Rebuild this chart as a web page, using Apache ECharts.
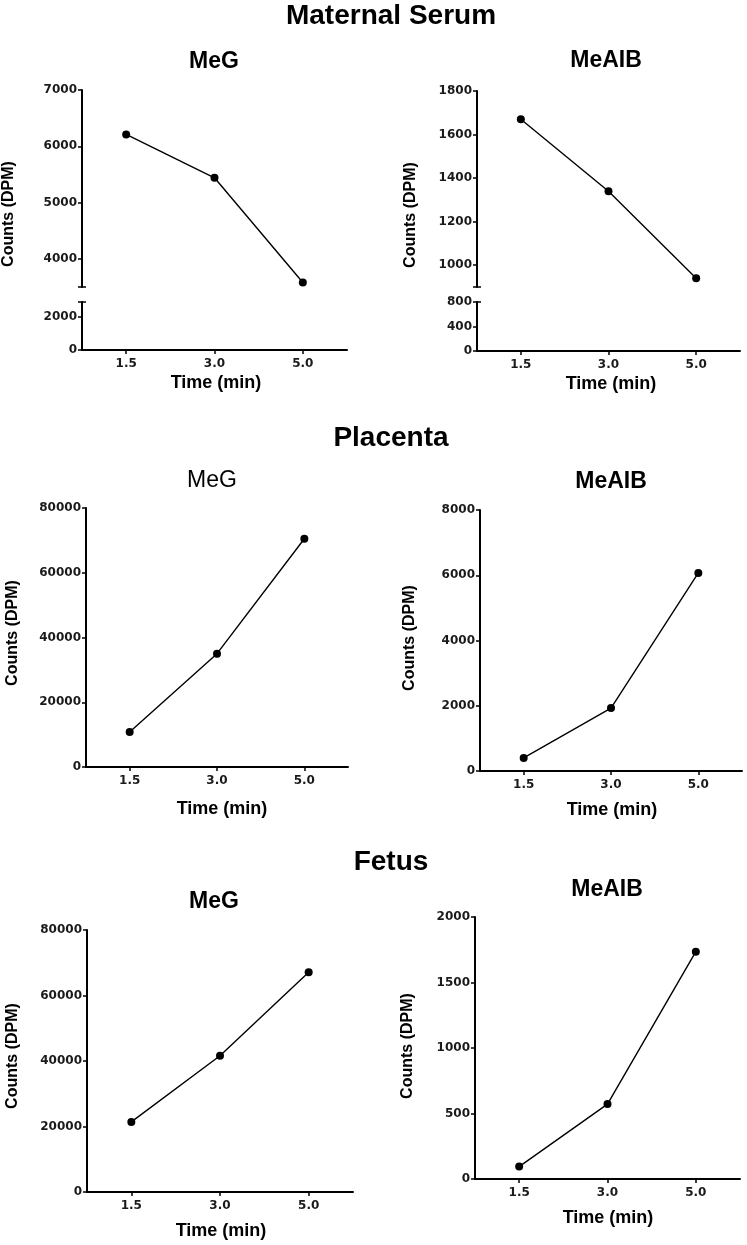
<!DOCTYPE html>
<html><head><meta charset="utf-8">
<script src="https://cdn.jsdelivr.net/npm/echarts@6/dist/echarts.min.js"></script>
<style>html,body{margin:0;padding:0;background:#fff}#c{width:747px;height:1245px}</style>
</head><body><div id="c"></div>
<script>
// ---- data ----
const times = ['1.5', '3.0', '5.0'];
const serumMeG = [6210, 5440, 3580];
const serumMeAIB = [1670, 1340, 940];
const placentaMeG = [10800, 35000, 70500];
const placentaMeAIB = [400, 1930, 6070];
const fetusMeG = [21400, 41600, 67100];
const fetusMeAIB = [95, 572, 1735];

const serumMeGTicksUpper = [4000, 5000, 6000, 7000];
const serumMeGTicksLower = [0, 2000];
const serumMeAIBTicksUpper = [1000, 1200, 1400, 1600, 1800];
const serumMeAIBTicksLower = [0, 400, 800];
const placentaMeGTicks = [0, 20000, 40000, 60000, 80000];
const placentaMeAIBTicks = [0, 2000, 4000, 6000, 8000];
const fetusMeGTicks = [0, 20000, 40000, 60000, 80000];
const fetusMeAIBTicks = [0, 500, 1000, 1500, 2000];

const sectionTitles = ['Maternal Serum', 'Placenta', 'Fetus'];
const yName = 'Counts (DPM)';
const xName = 'Time (min)';

// ---- build ----
const grid = [], xAxis = [], yAxis = [], series = [], graphic = [];
const tickFont = {fontFamily: 'DejaVu Sans', fontWeight: 'bold', fontSize: 12, color: '#1a1a1a'};
const BLACK = '#000';

function yAxisMain(gi, min, max, labelVals, tickVals) {
  return {
    type: 'value', gridIndex: gi, min: min, max: max, position: 'left',
    splitLine: {show: false},
    axisLine: {show: true, lineStyle: {color: BLACK, width: 2}},
    axisTick: {show: true, length: 4, inside: false, customValues: tickVals, lineStyle: {color: BLACK, width: 1.5}},
    axisLabel: Object.assign({customValues: labelVals, margin: 5, formatter: function (v) { return String(v); }}, tickFont)
  };
}
function yAxisCap(gi, min, max, capVals) {
  return {
    type: 'value', gridIndex: gi, min: min, max: max, position: 'left',
    splitLine: {show: false},
    axisLine: {show: false},
    axisTick: {show: true, length: 4, inside: true, customValues: capVals, lineStyle: {color: BLACK, width: 1.5}},
    axisLabel: {show: false}
  };
}
function xAxisVisible(gi) {
  return {
    type: 'category', gridIndex: gi, data: times, boundaryGap: true,
    axisLine: {show: true, lineStyle: {color: BLACK, width: 2}},
    axisTick: {show: true, alignWithLabel: true, length: 4, lineStyle: {color: BLACK, width: 1.5}},
    axisLabel: Object.assign({margin: 8, interval: 0}, tickFont),
    splitLine: {show: false}
  };
}
function xAxisHidden(gi) {
  return {type: 'category', gridIndex: gi, data: times, boundaryGap: true, show: false};
}
function addSeries(gi, yi, data) {
  series.push({
    type: 'line', xAxisIndex: gi, yAxisIndex: yi, data: data,
    symbol: 'circle', symbolSize: 8,
    lineStyle: {color: BLACK, width: 1.4}, itemStyle: {color: BLACK},
    animation: false, silent: true
  });
}

function simplePanel(box, ticks, data) {
  const gi = grid.length;
  grid.push({left: box.left, top: box.top, width: box.width, height: box.height, containLabel: false});
  xAxis.push(xAxisVisible(gi));
  const yi = yAxis.length;
  yAxis.push(yAxisMain(gi, ticks[0], ticks[ticks.length - 1], ticks, ticks));
  addSeries(gi, yi, data);
}

function brokenPanel(box, up, low, data) {
  // upper segment
  const gu = grid.length;
  grid.push({left: box.left, top: up.top, width: box.width, height: up.height, containLabel: false});
  xAxis.push(xAxisHidden(gu));
  const yu = yAxis.length;
  yAxis.push(yAxisMain(gu, up.min, up.max, up.ticks, up.ticks.concat([up.min])));
  yAxis.push(yAxisCap(gu, up.min, up.max, [up.min]));
  addSeries(gu, yu, data);
  // lower segment
  const gl = grid.length;
  grid.push({left: box.left, top: low.top, width: box.width, height: low.height, containLabel: false});
  xAxis.push(xAxisVisible(gl));
  yAxis.push(yAxisMain(gl, low.min, low.max, low.ticks, low.ticks.concat([low.max])));
  yAxis.push(yAxisCap(gl, low.min, low.max, [low.max]));
}

// Maternal serum
brokenPanel({left: 82, width: 265},
  {top: 90, height: 197, min: 3500, max: 7000, ticks: serumMeGTicksUpper},
  {top: 302, height: 48, min: 0, max: 2900, ticks: serumMeGTicksLower},
  serumMeG);
brokenPanel({left: 477, width: 263},
  {top: 91, height: 196, min: 900, max: 1800, ticks: serumMeAIBTicksUpper},
  {top: 302, height: 49, min: 0, max: 800, ticks: serumMeAIBTicksLower},
  serumMeAIB);
// Placenta
simplePanel({left: 86, top: 508, width: 262, height: 259}, placentaMeGTicks, placentaMeG);
simplePanel({left: 480, top: 510, width: 262, height: 261}, placentaMeAIBTicks, placentaMeAIB);
// Fetus
simplePanel({left: 87, top: 930, width: 266, height: 262}, fetusMeGTicks, fetusMeG);
simplePanel({left: 475, top: 917, width: 265, height: 262}, fetusMeAIBTicks, fetusMeAIB);

// ---- texts ----
function txt(x, y, text, font, rot) {
  graphic.push({type: 'text', x: x, y: y, rotation: rot || 0, silent: true,
    style: {text: text, font: font, fill: BLACK, align: 'center', verticalAlign: 'middle'}});
}
const TF = 'bold 28px "Liberation Sans", Arial, sans-serif';
const SF = 'bold 23px "Liberation Sans", Arial, sans-serif';
const SFn = '23px "Liberation Sans", Arial, sans-serif';
const AF = 'bold 16px "Liberation Sans", Arial, sans-serif';
const XF = 'bold 18px "Liberation Sans", Arial, sans-serif';

txt(391, 16, sectionTitles[0], TF);
txt(391, 438, sectionTitles[1], TF);
txt(391, 862, sectionTitles[2], TF);

txt(214, 62, 'MeG', SF);
txt(606, 61, 'MeAIB', SF);
txt(212, 481, 'MeG', SFn);
txt(611, 482, 'MeAIB', SF);
txt(214, 902, 'MeG', SF);
txt(607, 890, 'MeAIB', SF);

const R = Math.PI / 2;
txt(9, 214, yName, AF, R);
txt(411, 215, yName, AF, R);
txt(13, 633, yName, AF, R);
txt(410, 638, yName, AF, R);
txt(13, 1056, yName, AF, R);
txt(408, 1046, yName, AF, R);

txt(216, 383, xName, XF);
txt(611, 384, xName, XF);
txt(222, 809, xName, XF);
txt(612, 810, xName, XF);
txt(221, 1231, xName, XF);
txt(608, 1218, xName, XF);

const chart = echarts.init(document.getElementById('c'), null, {renderer: 'canvas'});
chart.setOption({
  animation: false,
  backgroundColor: '#fff',
  grid: grid, xAxis: xAxis, yAxis: yAxis, series: series, graphic: graphic
});
</script></body></html>
